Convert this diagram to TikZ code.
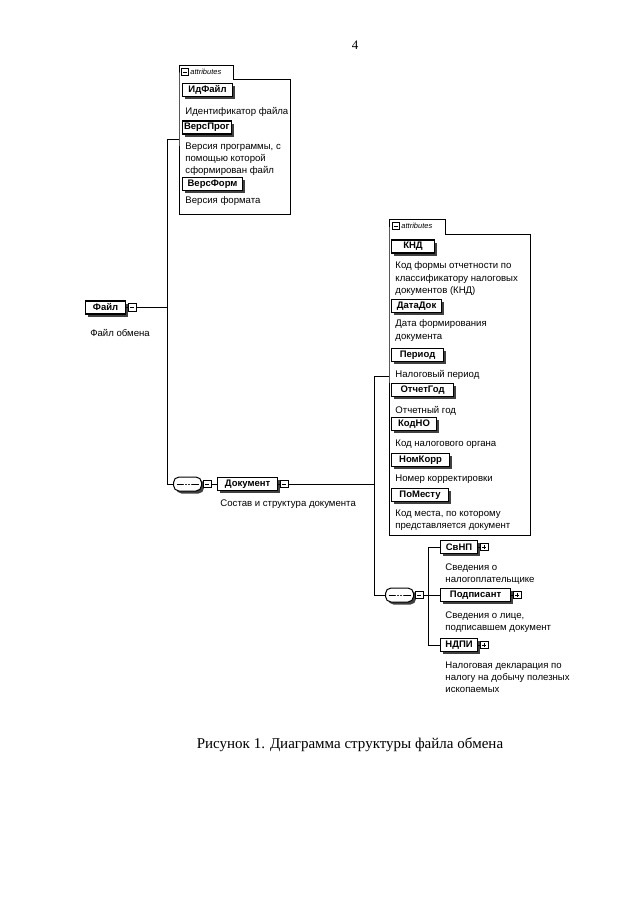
\documentclass[tikz,border=0pt]{standalone}
\usepackage{fontspec}
\setmainfont{Liberation Serif}
\newfontfamily\sansf{Liberation Sans}
\usetikzlibrary{shadows}
\begin{document}
\begin{tikzpicture}[x=1pt,y=-1pt,
  line width=0.9pt,
  elem/.style={draw,line width=1.1pt,fill=white,font=\sansf\bfseries\fontsize{9.5}{11}\selectfont,
    inner xsep=1.5pt,inner ysep=0pt,minimum height=13pt,minimum width=#1,anchor=west,
    drop shadow={shadow xshift=2.5pt,shadow yshift=-2.5pt,fill=black!75,opacity=1}},
  desc/.style={anchor=north west,inner sep=0pt,align=left,font=\sansf\fontsize{9.6}{12.2}\selectfont},
  iconbox/.style={draw,fill=white,minimum size=7.5pt,inner sep=0pt,line width=0.7pt,anchor=west},
  colicon/.style={iconbox,path picture={\draw[line width=0.7pt]
      ([xshift=1.5pt]path picture bounding box.west) -- ([xshift=-1.5pt]path picture bounding box.east);}},
  expicon/.style={iconbox,path picture={\draw[line width=0.7pt]
      ([xshift=1.5pt]path picture bounding box.west) -- ([xshift=-1.5pt]path picture bounding box.east)
      ([yshift=-1.5pt]path picture bounding box.north) -- ([yshift=1.5pt]path picture bounding box.south);}},
  seqbox/.style={draw,fill=white,rounded corners=5.5pt,minimum width=28pt,minimum height=14pt,inner sep=0pt,
    line width=1pt,anchor=west,
    drop shadow={shadow xshift=2.5pt,shadow yshift=-2.5pt,fill=black!75,opacity=1},
    path picture={
      \draw[line width=0.7pt] ([xshift=3pt]path picture bounding box.west) -- ([xshift=-3pt]path picture bounding box.east);
      \fill (path picture bounding box.center) circle (1pt)
            ([xshift=-3pt]path picture bounding box.center) circle (1pt)
            ([xshift=3pt]path picture bounding box.center) circle (1pt);}},
  container/.style={inner sep=0pt,anchor=north west},
  tabtext/.style={anchor=west,inner sep=0pt,font=\sansf\itshape\fontsize{7.5}{8}\selectfont},
  tabicon/.style={draw,fill=white,minimum size=7pt,inner sep=0pt,line width=0.6pt,anchor=west,
    path picture={\draw[line width=0.6pt]
      ([xshift=1.3pt]path picture bounding box.west) -- ([xshift=-1.3pt]path picture bounding box.east);}}
]
\useasboundingbox (0,0) rectangle (640,905);

% page number
\node[font=\fontsize{13}{15}\selectfont] (pnum) at (355,45) {4};

% ---------- top attributes box ----------
\node[container,minimum width=110pt,minimum height=134pt] (attrA) at (179,79) {};
\draw[line width=0.8pt] (attrA.north west) -- ++(0,-14) -- ++(54,0) -- ++(0,14) -- (attrA.north east)
   -- (attrA.south east) -- (attrA.south west) -- cycle;
\node[tabicon] (attrAic) at (181,72) {};
\node[tabtext] (attrAt) at (190,72) {attributes};

\node[elem=50pt] (idf) at (182,90) {ИдФайл};
\node[desc] (idfd) at (185,106.5) {Идентификатор файла};
\node[elem=48pt] (vprog) at (182,127.5) {ВерсПрог};
\node[desc] (vprogd) at (185,142.5) {Версия программы, с\\помощью которой\\сформирован файл};
\node[elem=60pt] (vform) at (182,184) {ВерсФорм};
\node[desc] (vformd) at (185,196.5) {Версия формата};

% ---------- root ----------
\node[elem=40pt] (fileN) at (85,307.5) {Файл};
\node[colicon] (fileIc) at ([xshift=2pt]fileN.east) {};
\draw (fileN.east) -- (fileIc.west);
\node[desc,anchor=north] (fileD) at (120,328.5) {Файл обмена};

\coordinate (vt) at (167,139);
\coordinate (vb) at (167,484);
\draw (fileIc.east) -- (fileIc.east -| vt);
\draw (vt -| attrA.west) -- (vt) -- (vb);

% ---------- sequence 1 / Документ ----------
\node[seqbox] (seq1) at (173,484) {};
\node[colicon] (seq1ic) at ([xshift=1pt]seq1.east) {};
\draw (vb) -- (seq1.west);
\node[elem=60pt] (docN) at (217,484) {Документ};
\node[colicon] (docIc) at ([xshift=2pt]docN.east) {};
\draw (seq1ic.east) -- (docN.west);
\draw (docN.east) -- (docIc.west);
\node[desc] (docD) at (220,499.5) {Состав и структура документа};

% ---------- right attributes box ----------
\node[container,minimum width=140pt,minimum height=300pt] (attrB) at (389,234) {};
\draw[line width=0.8pt] (attrB.north west) -- ++(0,-15) -- ++(56,0) -- ++(0,15) -- (attrB.north east)
   -- (attrB.south east) -- (attrB.south west) -- cycle;
\node[tabicon] (attrBic) at (392,226) {};
\node[tabtext] (attrBt) at (401,226) {attributes};

\node[elem=43pt] (knd) at (391,246.5) {КНД};
\node[desc] (kndd) at (395,261.5) {Код формы отчетности по\\классификатору налоговых\\документов (КНД)};
\node[elem=50pt] (datadok) at (391,306) {ДатаДок};
\node[desc] (datadokd) at (395,319.5) {Дата формирования\\документа};
\node[elem=52pt] (period) at (391,355) {Период};
\node[desc] (periodd) at (395,369.5) {Налоговый период};
\node[elem=62pt] (otchgod) at (391,390) {ОтчетГод};
\node[desc] (otchgodd) at (395,405.5) {Отчетный год};
\node[elem=45pt] (kodno) at (391,424) {КодНО};
\node[desc] (kodnod) at (395,439.5) {Код налогового органа};
\node[elem=58pt] (nomkorr) at (391,460) {НомКорр};
\node[desc] (nomkorrd) at (395,474.5) {Номер корректировки};
\node[elem=57pt] (pomestu) at (391,495) {ПоМесту};
\node[desc] (pomestud) at (395,509.5) {Код места, по которому\\представляется документ};

\coordinate (vr) at (374,376);
\coordinate (vr2) at (374,595);
\draw (docIc.east) -- (docIc.east -| vr);
\draw (vr -| attrB.west) -- (vr) -- (vr2);

% ---------- sequence 2 / children ----------
\node[seqbox] (seq2) at (385,595) {};
\node[colicon] (seq2ic) at ([xshift=1pt]seq2.east) {};
\draw (vr2) -- (seq2.west);

\coordinate (ct) at (428,547);
\coordinate (cb) at (428,645);
\draw (seq2ic.east) -- (seq2ic.east -| ct);

\node[elem=37pt] (svnp) at (440,547) {СвНП};
\node[expicon] (svnpIc) at ([xshift=2pt]svnp.east) {};
\draw (svnp.east) -- (svnpIc.west);
\node[desc] (svnpd) at (445,563.5) {Сведения о\\налогоплательщике};

\node[elem=70pt] (podp) at (440,595) {Подписант};
\node[expicon] (podpIc) at ([xshift=2pt]podp.east) {};
\draw (podp.east) -- (podpIc.west);
\node[desc] (podpd) at (445,611.5) {Сведения о лице,\\подписавшем документ};

\node[elem=37pt] (ndpi) at (440,645) {НДПИ};
\node[expicon] (ndpiIc) at ([xshift=2pt]ndpi.east) {};
\draw (ndpi.east) -- (ndpiIc.west);
\node[desc] (ndpid) at (445,661.5) {Налоговая декларация по\\налогу на добычу полезных\\ископаемых};

\draw (svnp.west) -- (ct) -- (cb) -- (ndpi.west);
\draw (podp.west -| ct) -- (podp.west);

% ---------- caption ----------
\node[font=\fontsize{15}{18}\selectfont] (caption) at (350,745) {Рисунок 1. Диаграмма структуры файла обмена};
\end{tikzpicture}
\end{document}
